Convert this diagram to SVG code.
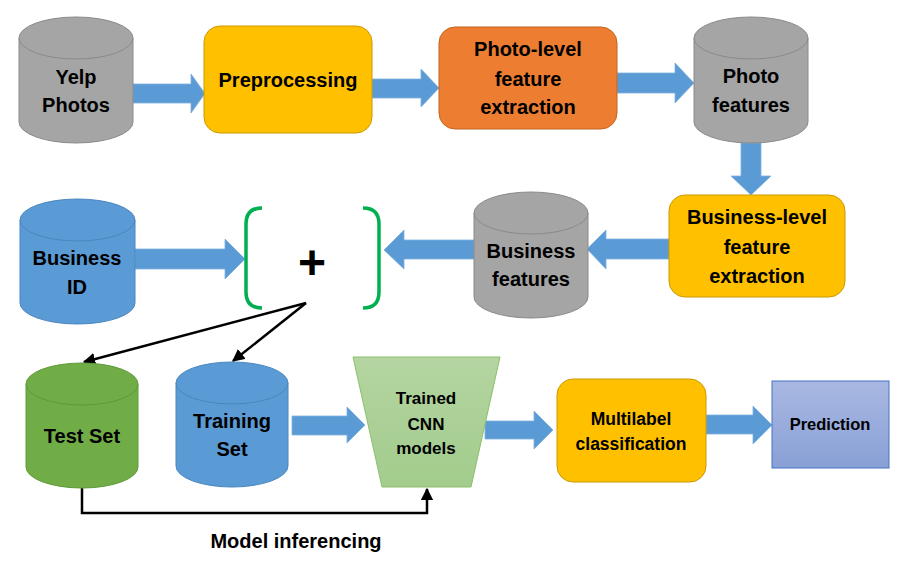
<svg xmlns="http://www.w3.org/2000/svg" width="908" height="571" viewBox="0 0 908 571">
<defs>
<style>
text{font-family:"Liberation Sans",Arial,sans-serif;font-weight:bold;fill:#000;text-anchor:middle}
.t20{font-size:20px}
.gray{fill:#A5A5A5;stroke:#8A8A8A;stroke-width:1}
.blue{fill:#5B9BD5;stroke:#4A86BE;stroke-width:1}
.green{fill:#70AD47;stroke:#5E9A3A;stroke-width:1}
.yellow{fill:#FFC000;stroke:#C99A00;stroke-width:1}
.orange{fill:#ED7D31;stroke:#C4651F;stroke-width:1}
.barrow{fill:#5B9BD5;stroke:#7FB0DE;stroke-width:0.8}
.bracket{fill:none;stroke:#00B050;stroke-width:3.5}
.line{fill:none;stroke:#000;stroke-width:2.5}
</style>
<marker id="ah" viewBox="0 0 10 10" refX="9" refY="5" markerWidth="5" markerHeight="5" orient="auto" markerUnits="strokeWidth">
<path d="M0,0 L10,5 L0,10 Z" fill="#000"/>
</marker>
<linearGradient id="trap" x1="0" y1="0" x2="0" y2="1">
<stop offset="0" stop-color="#B4D5A1"/>
<stop offset="1" stop-color="#A2CC8C"/>
</linearGradient>
<linearGradient id="pred" x1="0" y1="0" x2="0" y2="1">
<stop offset="0" stop-color="#A9B8E2"/>
<stop offset="1" stop-color="#89A0D6"/>
</linearGradient>
</defs>
<rect width="908" height="571" fill="#fff"/>

<g id="connectors">
<polygon class="barrow" points="133,84 191,84 191,74 205,93.5 191,113 191,103 133,103"/>
<polygon class="barrow" points="372,79 421,79 421,69 439,88 421,107 421,98 372,98"/>
<polygon class="barrow" points="617,73 675,73 675,63 694,83 675,103 675,93 617,93"/>
<polygon class="barrow" points="741,143 761,143 761,176 771,176 751,195 731,176 741,176"/>
<polygon class="barrow" points="669,239 606,239 606,230 587,249 606,269 606,259 669,259"/>
<polygon class="barrow" points="474,240 404,240 404,230 384,250 404,269 404,259 474,259"/>
<polygon class="barrow" points="135,249 225,249 225,239 245,259 225,279 225,269 135,269"/>
<polygon class="barrow" points="292,416 347,416 347,407 365,425 347,443 347,435 292,435"/>
<polygon class="barrow" points="485,421 534,421 534,411 553,430 534,449 534,439 485,439"/>
<polygon class="barrow" points="706,415 753,415 753,406 772,425 753,444 753,434 706,434"/>
<line class="line" x1="306" y1="303" x2="84" y2="362" marker-end="url(#ah)"/>
<line class="line" x1="306" y1="303" x2="233" y2="361" marker-end="url(#ah)"/>
<path class="line" d="M82,488 V513 H427 V489" marker-end="url(#ah)" stroke-width="3"/>
<text class="t20" x="296" y="548" font-size="21">Model inferencing</text>
</g>

<g id="yelp-photos">
<path class="gray" d="M19,38 V122 A57,21 0 0 0 133,122 V38"/>
<ellipse class="gray" cx="76" cy="38" rx="57" ry="21"/>
<text class="t20" x="76" y="84">Yelp</text>
<text class="t20" x="76" y="112">Photos</text>
</g>

<g id="preprocessing">
<rect class="yellow" x="204" y="26" width="168" height="107" rx="16"/>
<text class="t20" x="288" y="87">Preprocessing</text>
</g>

<g id="photo-level">
<rect class="orange" x="439" y="27" width="178" height="102" rx="16"/>
<text class="t20" x="528" y="56">Photo-level</text>
<text class="t20" x="528" y="86">feature</text>
<text class="t20" x="528" y="114">extraction</text>
</g>

<g id="photo-features">
<path class="gray" d="M694,38 V122 A57,21 0 0 0 808,122 V38"/>
<ellipse class="gray" cx="751" cy="38" rx="57" ry="21"/>
<text class="t20" x="751" y="83">Photo</text>
<text class="t20" x="751" y="112">features</text>
</g>

<g id="business-level">
<rect class="yellow" x="669" y="195" width="176" height="102" rx="16"/>
<text class="t20" x="757" y="224">Business-level</text>
<text class="t20" x="757" y="254">feature</text>
<text class="t20" x="757" y="283">extraction</text>
</g>

<g id="business-features">
<path class="gray" d="M474,213 V297 A57,21 0 0 0 588,297 V213"/>
<ellipse class="gray" cx="531" cy="213" rx="57" ry="21"/>
<text class="t20" x="531" y="258">Business</text>
<text class="t20" x="531" y="286">features</text>
</g>

<g id="combine">
<path class="bracket" d="M262,208 Q246,208 246,224 L246,292 Q246,308 262,308"/>
<path class="bracket" d="M363,208 Q379,208 379,224 L379,292 Q379,308 363,308"/>
<text x="312" y="279" font-size="48">+</text>
</g>

<g id="business-id">
<path class="blue" d="M20,220 V303 A57.5,21 0 0 0 135,303 V220"/>
<ellipse class="blue" cx="77.5" cy="220" rx="57.5" ry="21"/>
<text class="t20" x="77" y="265">Business</text>
<text class="t20" x="77" y="294">ID</text>
</g>

<g id="test-set">
<path class="green" d="M26,384 V467 A56,21 0 0 0 138,467 V384"/>
<ellipse class="green" cx="82" cy="384" rx="56" ry="21"/>
<text class="t20" x="82" y="443">Test Set</text>
</g>

<g id="training-set">
<path class="blue" d="M176,383 V466 A56,21 0 0 0 288,466 V383"/>
<ellipse class="blue" cx="232" cy="383" rx="56" ry="21"/>
<text class="t20" x="232" y="428">Training</text>
<text class="t20" x="232" y="456">Set</text>
</g>

<g id="trained-cnn">
<polygon points="353,357 500,357 471,487 382,487" fill="url(#trap)" stroke="#8CBF6E" stroke-width="1"/>
<text x="426" y="404" font-size="17">Trained</text>
<text x="426" y="430" font-size="17">CNN</text>
<text x="426" y="454" font-size="17">models</text>
</g>

<g id="multilabel">
<rect class="yellow" x="557" y="379" width="149" height="103" rx="16"/>
<text x="631" y="425" font-size="17.5">Multilabel</text>
<text x="631" y="450" font-size="17.5">classification</text>
</g>

<g id="prediction">
<rect x="772" y="381" width="117" height="87" fill="url(#pred)" stroke="#4472C4" stroke-width="1"/>
<text x="830" y="430" font-size="16.5">Prediction</text>
</g>
</svg>
